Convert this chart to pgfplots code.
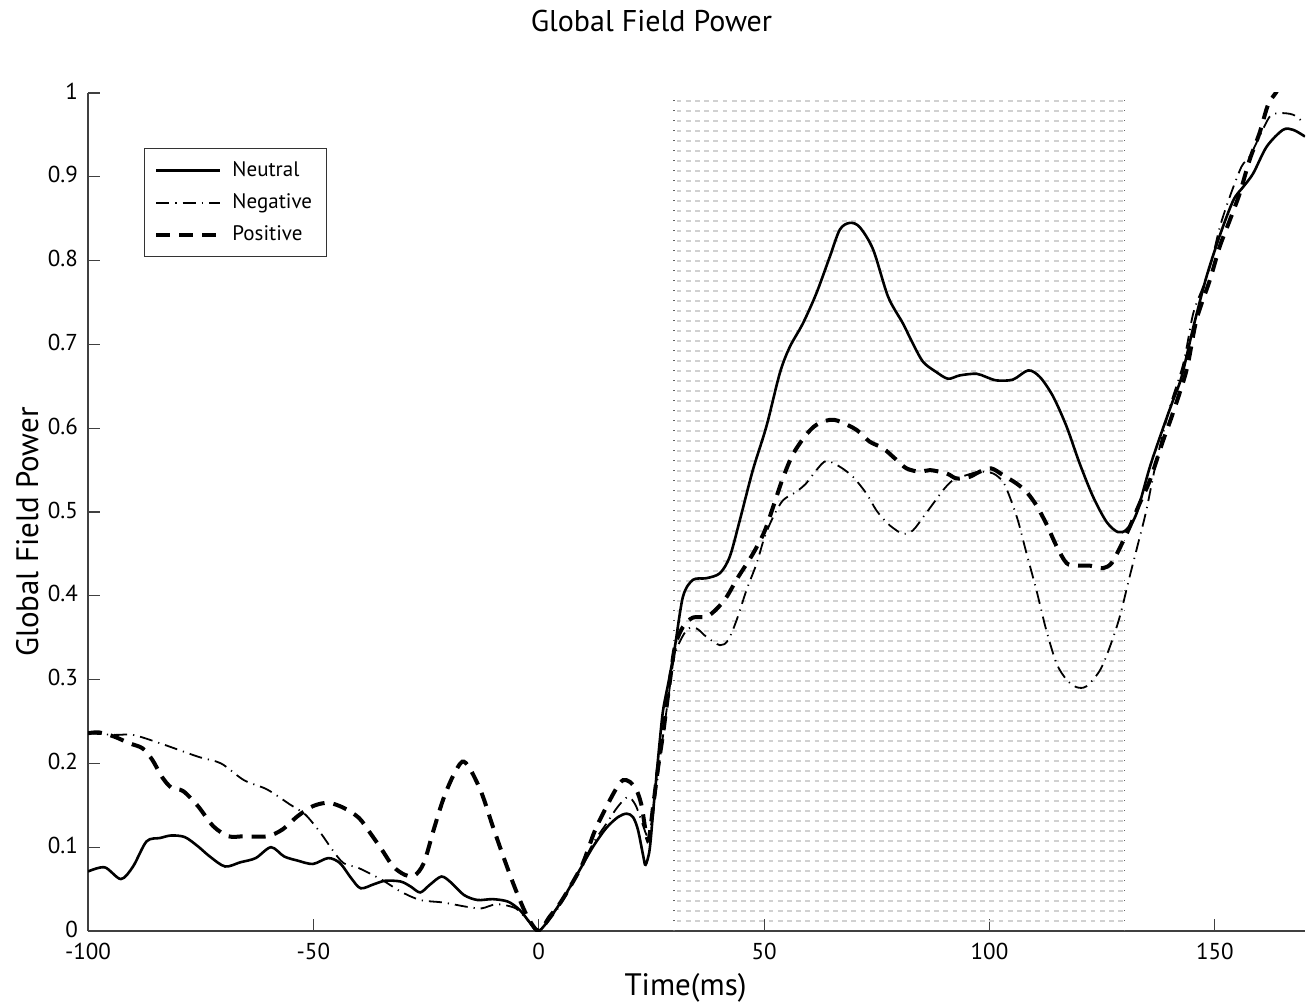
\documentclass[border=0pt]{standalone}
\usepackage{fontspec}
\setmainfont{PT Sans}
\usepackage{pgfplots}
\pgfplotsset{compat=1.18}

\pgfplotstableread{
t v
-100 0.071
-96.3 0.076
-92.7 0.062
-90 0.077
-87 0.107
-84 0.111
-81.5 0.114
-78.5 0.112
-75.6 0.101
-73 0.089
-69.6 0.077
-66.2 0.082
-62.8 0.087
-59.4 0.100
-56.5 0.089
-53.5 0.084
-50.1 0.080
-46.7 0.087
-44.1 0.081
-41.6 0.063
-39.5 0.051
-36.5 0.056
-34 0.060
-30.6 0.059
-28.4 0.053
-26.3 0.046
-24.2 0.055
-21.6 0.065
-19.5 0.058
-16.6 0.043
-13.6 0.037
-10.2 0.038
-6.8 0.035
-4.2 0.025
-2.1 0.011
0 0
3.2 0.021
6.1 0.045
9.1 0.073
12.1 0.101
15 0.123
17.6 0.136
19.5 0.140
20.9 0.136
22 0.121
23.2 0.089
23.7 0.079
24.6 0.097
25.4 0.144
26.1 0.184
26.8 0.224
27.6 0.264
28.9 0.300
30.2 0.339
32.0 0.399
34.2 0.419
37.2 0.421
40.2 0.427
42.4 0.447
44.6 0.490
47.5 0.550
50.5 0.602
53.5 0.666
55.7 0.697
58.6 0.725
61.6 0.761
64.6 0.805
66.8 0.837
69.0 0.845
71.2 0.840
74.2 0.813
77.5 0.757
80.8 0.725
83.0 0.701
85.3 0.679
88.2 0.667
90.8 0.659
93.4 0.663
97.1 0.665
99.3 0.661
101.6 0.657
105.2 0.658
108.6 0.669
111.2 0.661
114.1 0.638
117.1 0.602
120.0 0.558
123.0 0.518
126.0 0.488
128.5 0.476
130.4 0.479
132.6 0.498
135.6 0.554
138.5 0.600
140.5 0.630
142.6 0.661
145.2 0.720
148.1 0.780
151.1 0.830
154.1 0.872
156.3 0.888
158.5 0.904
161.5 0.936
165.1 0.956
167.4 0.956
170 0.948
}\neutral

\pgfplotstableread{
t v
-100 0.236
-94 0.234
-90 0.234
-84 0.224
-75.6 0.208
-70.5 0.200
-65.4 0.180
-60.3 0.169
-55.2 0.151
-51.8 0.139
-48.4 0.117
-45.8 0.097
-43.3 0.081
-39.9 0.075
-34.8 0.061
-30.6 0.047
-26.3 0.037
-21.2 0.034
-16.1 0.029
-12.7 0.027
-9.3 0.032
-5.1 0.027
-2.5 0.013
0 0
3.2 0.019
6.1 0.043
9.1 0.073
12.1 0.105
15 0.128
17.5 0.148
19.8 0.160
21.5 0.150
23 0.128
24.2 0.113
25.2 0.135
26.3 0.180
27.5 0.230
28.8 0.280
30.2 0.330
32.8 0.359
35 0.361
37.2 0.351
40.2 0.341
42.0 0.347
43.9 0.371
46.1 0.407
48.3 0.438
50.1 0.470
52.0 0.494
54.2 0.514
57.1 0.524
59.3 0.534
61.6 0.550
63.8 0.561
66.8 0.554
69.7 0.542
72.7 0.522
74.9 0.502
77.1 0.488
78.6 0.481
80.8 0.474
83.0 0.478
85.3 0.494
87.5 0.510
89.7 0.526
91.9 0.538
94.9 0.544
97.8 0.548
100.8 0.546
103.0 0.536
104.5 0.518
106.3 0.490
108.2 0.451
110.4 0.407
112.6 0.359
114.9 0.319
117.1 0.300
119.3 0.291
121.5 0.292
124.5 0.311
126.7 0.339
128.9 0.375
131.1 0.423
133.0 0.463
134.8 0.502
137 0.560
140 0.625
143.0 0.677
145.2 0.737
147.4 0.769
149.3 0.800
151.1 0.840
153.3 0.876
155.9 0.912
157.7 0.924
159.9 0.948
162.2 0.972
164.2 0.976
167.4 0.974
170 0.963
}\negative

\pgfplotstableread{
t v
-100 0.236
-97.6 0.237
-94.2 0.232
-90.8 0.224
-87.9 0.218
-85.7 0.204
-83.6 0.184
-81.5 0.171
-78.9 0.167
-75.6 0.149
-72.2 0.125
-68.8 0.113
-65.4 0.113
-60.3 0.113
-56.9 0.121
-53.5 0.137
-50.1 0.149
-46.7 0.153
-43.3 0.147
-39.9 0.135
-37.4 0.117
-34.8 0.097
-32.3 0.077
-29.7 0.067
-27.6 0.066
-25.5 0.081
-23.3 0.121
-21.2 0.157
-19.1 0.184
-17 0.202
-15.3 0.194
-12.7 0.165
-10.2 0.125
-7.6 0.085
-5.1 0.049
-2.5 0.017
0 0
2.4 0.017
4.7 0.033
7.2 0.055
9.8 0.081
12.4 0.119
15.0 0.148
17.2 0.170
18.7 0.180
20.2 0.178
21.7 0.168
22.8 0.150
23.7 0.120
24.4 0.109
25.4 0.150
26.5 0.196
27.6 0.236
28.9 0.290
30.2 0.339
32.0 0.363
34.2 0.374
37.2 0.375
39.4 0.384
41.6 0.398
44.2 0.422
47.5 0.450
50.1 0.477
52.3 0.511
54.2 0.541
56.4 0.569
59.3 0.592
61.6 0.604
64.6 0.610
66.8 0.608
70.5 0.598
73.4 0.584
76.4 0.576
79.4 0.562
81.6 0.552
84.5 0.548
86.8 0.550
90.5 0.546
92.7 0.540
95.6 0.542
97.8 0.548
100.4 0.552
103.0 0.544
106.0 0.534
108.2 0.524
110.4 0.508
112.6 0.486
114.9 0.459
117.1 0.439
119.3 0.436
122.2 0.436
125.2 0.433
127.1 0.439
128.9 0.457
131.1 0.482
133.3 0.510
135.6 0.538
138.5 0.585
140.5 0.615
143.7 0.669
145.9 0.729
148.9 0.777
151.1 0.817
153.3 0.848
155.5 0.880
157.7 0.920
159.9 0.952
161.8 0.986
163.5 1.000
166 1.020
170 1.040
}\positive

\begin{document}
\begin{tikzpicture}
\useasboundingbox (0,0) rectangle (658pt,500.5pt);
\begin{axis}[
  at={(44pt,35pt)}, anchor=south west,
  scale only axis, width=608.5pt, height=419pt,
  xmin=-100, xmax=170, ymin=0, ymax=1,
  axis lines*=left,
  axis line style={-, black!75, line width=0.7pt},
  tick align=inside,
  major tick length=6pt,
  tick style={black!75, line width=0.6pt},
  xtick={-100,-50,0,50,100,150},
  xticklabels={-100,-50,0,50,100,150},
  ytick={0,0.1,0.2,0.3,0.4,0.5,0.6,0.7,0.8,0.9,1},
  yticklabels={0,0.1,0.2,0.3,0.4,0.5,0.6,0.7,0.8,0.9,1},
  ticklabel style={font=\fontsize{11.5}{13}\selectfont},
  yticklabel style={xshift=-1.5pt, yshift=1pt},
  xticklabel style={yshift=-2.5pt},
  title={Global Field Power},
  title style={at={(axis description cs:0.463,1)}, anchor=base, yshift=24.5pt, font=\fontsize{15}{18}\selectfont},
  xlabel={Time(ms)},
  xlabel style={at={(axis description cs:0.491,0)}, anchor=base, yshift=-32pt, font=\fontsize{15.5}{18}\selectfont},
  ylabel={Global Field Power},
  ylabel style={at={(axis description cs:0,0.476)}, anchor=base, yshift=25pt, font=\fontsize{15.5}{18}\selectfont},
  legend style={at={(axis description cs:0.046,0.934)}, anchor=north west,
    draw=black!80, line width=0.5pt, fill=white,
    font=\fontsize{10.5}{12.5}\selectfont,
    inner xsep=5pt, inner ysep=4.3pt, row sep=3.2pt,
    cells={anchor=west}},
  legend image code/.code={\draw[#1] (0pt,0pt) -- (32pt,0pt); \path (35pt,0pt);},
  clip=true,
]
% shaded analysis window: hatch lines and dotted borders
\pgfplotsinvokeforeach{1,...,83}{
  \draw[black!18, line width=0.7pt, dash pattern=on 2.4pt off 2.2pt]
    (axis cs:30.6,{#1*0.011933}) -- (axis cs:130,{#1*0.011933});
}
\draw[black!60, line width=0.6pt, dash pattern=on 0.5pt off 4.5pt] (axis cs:30,0) -- (axis cs:30,0.997);
\draw[black!60, line width=0.6pt, dash pattern=on 0.5pt off 4.5pt] (axis cs:130,0) -- (axis cs:130,0.997);

\addplot[black, line width=1.3pt, smooth, tension=0.5] table[x=t,y=v]{\neutral};
\addlegendentry{Neutral}
\addplot[black, line width=0.9pt, smooth, tension=0.5, dash pattern=on 6.5pt off 3pt on 0.6pt off 3pt] table[x=t,y=v]{\negative};
\addlegendentry{Negative}
\addplot[black, line width=2pt, smooth, tension=0.5, dash pattern=on 7pt off 4.5pt] table[x=t,y=v]{\positive};
\addlegendentry{Positive}
\end{axis}
\end{tikzpicture}
\end{document}
